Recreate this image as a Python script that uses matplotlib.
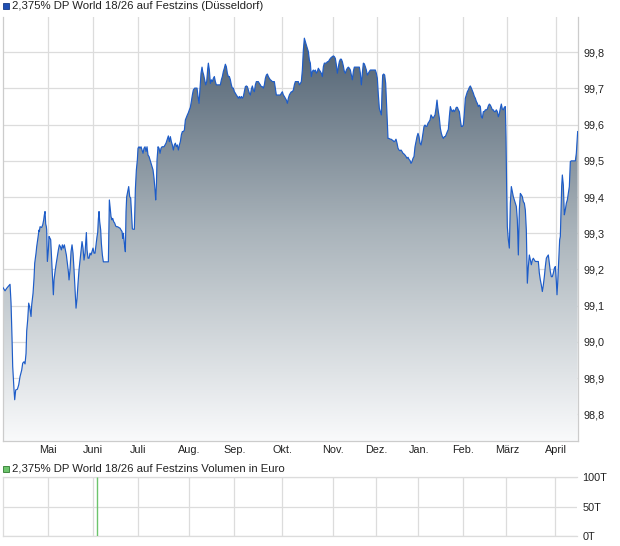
import matplotlib
matplotlib.use("Agg")
import matplotlib.pyplot as plt
import numpy as np
from matplotlib.patches import Rectangle
from matplotlib.colors import LinearSegmentedColormap

plt.rcParams['font.family'] = ['Liberation Sans', 'DejaVu Sans']

# ---------------- data ----------------
title_main = "2,375% DP World 18/26 auf Festzins (Düsseldorf)"
title_vol = "2,375% DP World 18/26 auf Festzins Volumen in Euro"

# time positions (first half, in thirds of a chart step) and prices
t_left = [8, 15, 20, 30, 33, 36, 38, 42, 44, 47,
          52, 56, 60, 65, 68, 72, 75, 78, 80, 83,
          86, 89, 91, 93, 95, 99, 102, 104, 108, 110,
          113, 117, 118, 120, 125, 128, 131, 133, 135, 137,
          139, 140, 142, 145, 147, 150, 152, 155, 158, 160,
          162, 165, 168, 172, 175, 178, 181, 184, 187, 190,
          193, 196, 199, 202, 205, 207, 210, 213, 216, 219,
          222, 225, 228, 231, 234, 237, 240, 243, 246, 249,
          252, 255, 257, 259, 261, 264, 267, 270, 273, 276,
          279, 282, 285, 288, 291, 293, 295, 297, 299, 302,
          304, 307, 310, 325, 328, 330, 333, 336, 338, 341,
          344, 347, 350, 353, 356, 360, 363, 366, 368, 370,
          373, 376, 378, 380, 383, 386, 389, 392, 395, 397,
          400, 403, 406, 409, 412, 414, 417, 420, 423, 426,
          429, 432, 435, 438, 441, 444, 447, 450, 453, 456,
          459, 462, 465, 467, 469, 471, 474, 477, 480, 483,
          486, 489, 492, 495, 498, 501, 505, 508, 511, 514,
          517, 520, 523, 526, 529, 532, 535, 538, 541, 544,
          547, 550, 553, 556, 559, 562, 565, 568, 571, 574,
          577, 580, 584, 588, 591, 594, 597, 600, 603, 606,
          608, 611, 614, 617, 620, 623, 625, 628, 631, 634,
          637, 640, 643, 646, 649, 652, 655, 658, 661, 664,
          667, 670, 673, 676, 679, 682, 685, 688, 691, 694,
          697, 700, 703, 706, 709, 712, 715, 718, 721, 724,
          727, 730, 733, 736, 739, 742, 745, 748, 751, 754,
          757, 760, 763, 766, 769, 772, 775, 778, 781, 784,
          787, 790, 793, 796, 799, 802, 805, 808, 811, 814,
          817, 820, 823, 826, 829, 832, 835, 838, 841, 844,
          847, 850, 853, 856, 859, 862, 865, 868, 871, 874,
          877, 880, 883, 886, 889, 892, 895, 898, 901, 904,
          907, 910, 913, 916, 919, 922, 925, 928]
p_left = [99.151, 99.141, 99.148, 99.159, 99.108, 99.010, 98.932, 98.867, 98.840, 98.867,
          98.869, 98.881, 98.904, 98.922, 98.941, 98.945, 98.939, 98.968, 99.030, 99.061,
          99.107, 99.096, 99.084, 99.070, 99.102, 99.134, 99.176, 99.217, 99.245, 99.263,
          99.282, 99.309, 99.305, 99.318, 99.316, 99.323, 99.337, 99.351, 99.360, 99.326,
          99.318, 99.309, 99.222, 99.254, 99.291, 99.286, 99.282, 99.226, 99.166, 99.130,
          99.171, 99.194, 99.213, 99.236, 99.254, 99.268, 99.263, 99.254, 99.268, 99.259,
          99.268, 99.254, 99.240, 99.217, 99.194, 99.171, 99.199, 99.249, 99.268, 99.245,
          99.199, 99.143, 99.093, 99.120, 99.162, 99.199, 99.226, 99.254, 99.277, 99.259,
          99.226, 99.245, 99.272, 99.302, 99.254, 99.231, 99.231, 99.245, 99.240, 99.249,
          99.259, 99.245, 99.245, 99.268, 99.291, 99.302, 99.339, 99.360, 99.332, 99.309,
          99.272, 99.240, 99.221, 99.221, 99.392, 99.374, 99.346, 99.337, 99.341, 99.332,
          99.328, 99.320, 99.318, 99.318, 99.316, 99.314, 99.309, 99.305, 99.286, 99.300,
          99.272, 99.249, 99.360, 99.401, 99.415, 99.429, 99.401, 99.397, 99.346, 99.312,
          99.311, 99.311, 99.421, 99.475, 99.503, 99.535, 99.539, 99.535, 99.539, 99.530,
          99.521, 99.535, 99.539, 99.526, 99.539, 99.516, 99.512, 99.503, 99.493, 99.484,
          99.475, 99.452, 99.420, 99.392, 99.429, 99.503, 99.539, 99.535, 99.521, 99.535,
          99.539, 99.539, 99.539, 99.544, 99.549, 99.558, 99.569, 99.553, 99.567, 99.553,
          99.544, 99.530, 99.544, 99.549, 99.539, 99.544, 99.530, 99.544, 99.553, 99.572,
          99.581, 99.581, 99.585, 99.613, 99.620, 99.627, 99.633, 99.641, 99.648, 99.664,
          99.682, 99.696, 99.701, 99.701, 99.701, 99.678, 99.659, 99.701, 99.742, 99.759,
          99.747, 99.737, 99.724, 99.710, 99.719, 99.753, 99.770, 99.751, 99.714, 99.724,
          99.719, 99.728, 99.733, 99.719, 99.710, 99.710, 99.710, 99.710, 99.710, 99.724,
          99.733, 99.747, 99.756, 99.767, 99.760, 99.742, 99.733, 99.733, 99.724, 99.710,
          99.701, 99.701, 99.691, 99.687, 99.682, 99.678, 99.673, 99.678, 99.673, 99.678,
          99.673, 99.678, 99.691, 99.705, 99.707, 99.705, 99.696, 99.687, 99.682, 99.698,
          99.707, 99.696, 99.691, 99.710, 99.719, 99.719, 99.719, 99.714, 99.710, 99.705,
          99.705, 99.701, 99.710, 99.728, 99.737, 99.740, 99.733, 99.728, 99.724, 99.722,
          99.719, 99.719, 99.719, 99.701, 99.682, 99.682, 99.682, 99.682, 99.682, 99.687,
          99.691, 99.682, 99.678, 99.673, 99.668, 99.659, 99.673, 99.682, 99.687, 99.691,
          99.691, 99.696, 99.710, 99.719, 99.719, 99.719, 99.719, 99.710, 99.714, 99.719,
          99.751, 99.806, 99.839, 99.829, 99.820, 99.811, 99.802, 99.779]

# second half (same units, offset by 900)
t_right = [31, 34, 37, 40, 43, 46, 49, 52, 55, 58,
           61, 64, 67, 70, 73, 76, 79, 82, 85, 88,
           91, 94, 97, 100, 103, 106, 109, 112, 115, 118,
           121, 124, 127, 130, 133, 136, 139, 142, 145, 148,
           151, 154, 157, 160, 163, 166, 169, 172, 175, 178,
           181, 184, 187, 190, 193, 196, 199, 202, 205, 208,
           211, 214, 217, 220, 223, 226, 229, 232, 235, 238,
           241, 244, 246, 248, 251, 254, 257, 260, 262, 264,
           267, 270, 273, 276, 279, 282, 285, 288, 291, 294,
           297, 300, 303, 306, 309, 312, 315, 318, 321, 324,
           327, 330, 333, 336, 339, 342, 345, 348, 351, 354,
           357, 360, 363, 366, 369, 372, 375, 378, 381, 384,
           387, 390, 393, 396, 399, 402, 405, 408, 411, 413,
           415, 418, 421, 424, 427, 430, 433, 436, 439, 442,
           445, 448, 451, 454, 457, 460, 463, 466, 469, 472,
           475, 478, 481, 484, 487, 490, 493, 496, 499, 502,
           505, 508, 511, 514, 517, 520, 523, 526, 529, 532,
           535, 538, 541, 544, 547, 550, 553, 556, 559, 562,
           565, 568, 571, 574, 577, 580, 583, 586, 589, 592,
           595, 598, 601, 604, 607, 610, 613, 616, 618, 620,
           622, 625, 628, 631, 634, 637, 640, 643, 646, 649,
           652, 655, 658, 661, 664, 667, 670, 673, 676, 679,
           681, 682, 685, 688, 691, 694, 697, 700, 703, 706,
           709, 712, 715, 718, 721, 724, 727, 730, 733, 736,
           739, 742, 745, 748, 751, 754, 757, 760, 763, 766,
           769, 771, 773, 776, 779, 781, 783, 785, 787, 790,
           793, 796, 799, 802, 805, 808, 811, 814, 817, 820,
           823, 826, 829, 831, 833]
p_right = [99.770, 99.733, 99.747, 99.751, 99.747, 99.751, 99.742, 99.747, 99.756, 99.751,
           99.747, 99.742, 99.733, 99.760, 99.770, 99.770, 99.770, 99.774, 99.774, 99.779,
           99.783, 99.786, 99.788, 99.790, 99.788, 99.783, 99.765, 99.742, 99.760, 99.774,
           99.781, 99.781, 99.774, 99.762, 99.747, 99.742, 99.751, 99.756, 99.759, 99.756,
           99.751, 99.737, 99.724, 99.747, 99.759, 99.759, 99.759, 99.759, 99.759, 99.759,
           99.742, 99.710, 99.742, 99.770, 99.768, 99.760, 99.751, 99.737, 99.742, 99.747,
           99.751, 99.751, 99.751, 99.751, 99.751, 99.751, 99.742, 99.728, 99.682, 99.645,
           99.636, 99.627, 99.691, 99.737, 99.740, 99.737, 99.714, 99.650, 99.604, 99.562,
           99.562, 99.560, 99.560, 99.558, 99.556, 99.553, 99.555, 99.560, 99.549, 99.535,
           99.530, 99.528, 99.530, 99.526, 99.521, 99.519, 99.516, 99.512, 99.507, 99.510,
           99.504, 99.501, 99.493, 99.498, 99.507, 99.512, 99.539, 99.553, 99.567, 99.576,
           99.567, 99.549, 99.544, 99.558, 99.576, 99.595, 99.599, 99.595, 99.596, 99.604,
           99.608, 99.613, 99.627, 99.622, 99.618, 99.622, 99.627, 99.645, 99.668, 99.650,
           99.636, 99.618, 99.590, 99.576, 99.567, 99.562, 99.567, 99.567, 99.574, 99.581,
           99.587, 99.622, 99.650, 99.641, 99.636, 99.641, 99.636, 99.641, 99.648, 99.648,
           99.641, 99.636, 99.613, 99.595, 99.595, 99.599, 99.631, 99.673, 99.682, 99.691,
           99.696, 99.703, 99.707, 99.701, 99.694, 99.687, 99.678, 99.673, 99.664, 99.659,
           99.650, 99.654, 99.650, 99.622, 99.618, 99.636, 99.636, 99.641, 99.641, 99.643,
           99.652, 99.657, 99.654, 99.648, 99.641, 99.641, 99.636, 99.636, 99.641, 99.636,
           99.622, 99.631, 99.645, 99.657, 99.643, 99.641, 99.648, 99.650, 99.567, 99.420,
           99.318, 99.282, 99.259, 99.383, 99.429, 99.415, 99.401, 99.392, 99.383, 99.374,
           99.337, 99.240, 99.365, 99.410, 99.406, 99.401, 99.387, 99.383, 99.364, 99.309,
           99.217, 99.162, 99.208, 99.240, 99.226, 99.213, 99.226, 99.231, 99.226, 99.222,
           99.222, 99.222, 99.222, 99.190, 99.171, 99.157, 99.139, 99.157, 99.180, 99.208,
           99.231, 99.236, 99.240, 99.217, 99.194, 99.180, 99.180, 99.190, 99.203, 99.208,
           99.167, 99.130, 99.162, 99.222, 99.282, 99.291, 99.365, 99.429, 99.461, 99.433,
           99.351, 99.365, 99.383, 99.392, 99.410, 99.429, 99.498, 99.500, 99.500, 99.500,
           99.500, 99.500, 99.521, 99.553, 99.581]

months = ["Mai", "Juni", "Juli", "Aug.", "Sep.", "Okt.", "Nov.", "Dez.", "Jan.", "Feb.", "März", "April"]
month_t = [143, 280, 415, 568, 703, 847, 1000, 1130, 1256, 1390, 1522, 1668]

price_ticks = [98.8, 98.9, 99.0, 99.1, 99.2, 99.3, 99.4, 99.5, 99.6, 99.7, 99.8]
vol_t = [292]
vol_values = [100000]
vol_ticks = [0, 50000, 100000]
vol_labels = ["0T", "50T", "100T"]

# ---------------- build ----------------
t = np.array(t_left + [900 + v for v in t_right], dtype=float)
p = np.array(p_left + p_right)

W, H = 620, 546
fig = plt.figure(figsize=(W / 100, H / 100), dpi=100)
fig.patch.set_facecolor("white")

grid_c = "#dcdcdc"
text_c = "#222222"
x0, x1 = 8, 1734
y0, y1 = 98.726, 99.8975

ax = fig.add_axes([2.7 / W, (H - 441) / H, (578 - 2.7) / W, (441 - 17) / H])
ax.set_xlim(x0, x1)
ax.set_ylim(y0, y1)

# gradient area
poly = ax.fill_between(t, p, y0, facecolor="none", edgecolor="none")
cmap = LinearSegmentedColormap.from_list("g", ["#f9fafb", "#a9b3ba", "#46586a"])
grad = np.linspace(0, 1, 256).reshape(-1, 1)
im = ax.imshow(grad, cmap=cmap, origin="lower", aspect="auto",
               extent=[x0, x1, y0, y1], zorder=1, interpolation="bilinear")
for path in poly.get_paths():
    im.set_clip_path(path, transform=ax.transData)
ax.plot(t, p, color="#1d5cc8", lw=0.85, zorder=3)

ax.set_yticks(price_ticks)
ax.set_yticklabels([f"{v:.1f}".replace(".", ",") for v in price_ticks])
ax.set_xticks(month_t)
ax.set_xticklabels(months)
ax.yaxis.tick_right()
ax.tick_params(axis="both", length=0, labelsize=7.8, colors=text_c)
ax.tick_params(axis="y", pad=4)
ax.tick_params(axis="x", pad=3)
ax.grid(True, color=grid_c, lw=0.9, zorder=0)
ax.set_axisbelow(True)
for s in ["top"]:
    ax.spines[s].set_visible(False)
for s in ["left", "bottom", "right"]:
    ax.spines[s].set_color("#cccccc")
    ax.spines[s].set_linewidth(0.9)

# volume panel
ax2 = fig.add_axes([2.7 / W, (H - 536) / H, (577 - 2.7) / W, (536 - 477.3) / H])
ax2.set_xlim(x0, x1)
ax2.set_ylim(0, 100000)
ax2.vlines(vol_t, 0, vol_values, color="#6cc46c", lw=1.0, zorder=3)
ax2.set_xticks(month_t)
ax2.set_xticklabels([])
ax2.set_yticks(vol_ticks)
ax2.set_yticklabels(vol_labels)
ax2.yaxis.tick_right()
ax2.tick_params(axis="both", length=0, labelsize=7.8, colors=text_c)
ax2.tick_params(axis="y", pad=4)
ax2.grid(True, color=grid_c, lw=0.9, zorder=0)
ax2.set_axisbelow(True)
for s in ["top", "left", "bottom", "right"]:
    ax2.spines[s].set_color(grid_c)
    ax2.spines[s].set_linewidth(0.9)
ax2.spines["right"].set_visible(False)

# legends / titles
fig.add_artist(Rectangle((3 / W, 1 - 9 / H), 6 / W, 6 / H, transform=fig.transFigure,
                         facecolor="#1f4fb4", edgecolor="#163a86", lw=0.6))
fig.text(12 / W, 1 - 6.2 / H, title_main, fontsize=8.2, color=text_c, va="center", ha="left")
fig.add_artist(Rectangle((3 / W, 1 - 471.5 / H), 6 / W, 6 / H, transform=fig.transFigure,
                         facecolor="#6cc46c", edgecolor="#2f7a2f", lw=0.6))
fig.text(12 / W, 1 - 468.5 / H, title_vol, fontsize=8.2, color=text_c, va="center", ha="left")

fig.savefig("out.png", dpi=100, facecolor="white")
